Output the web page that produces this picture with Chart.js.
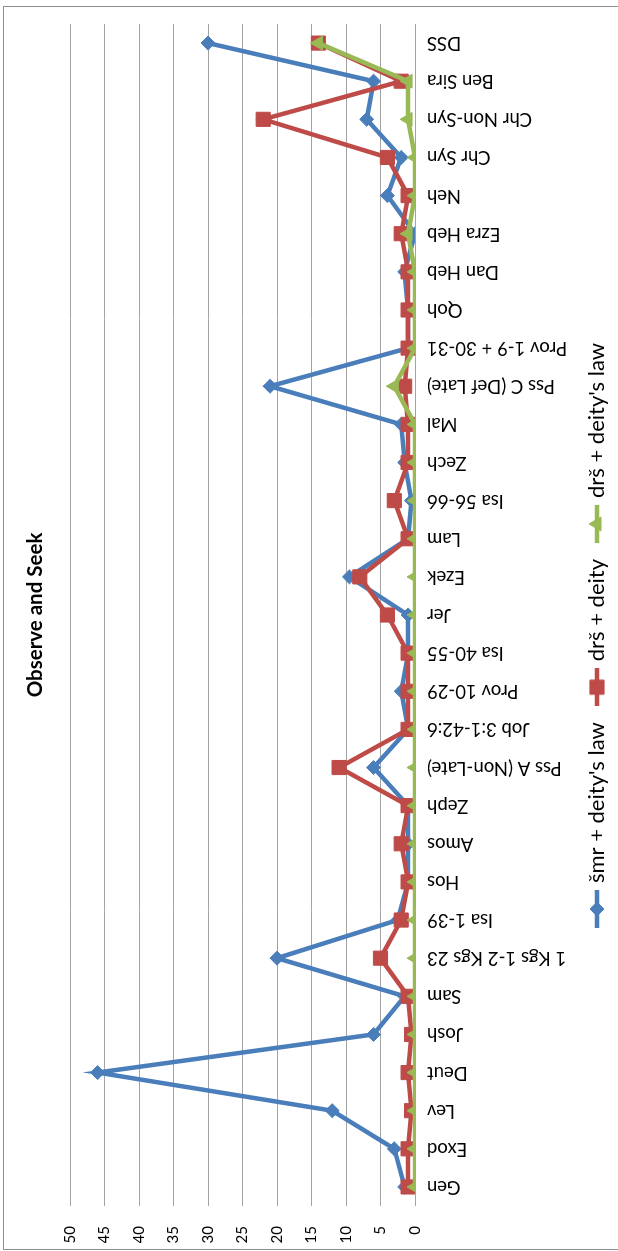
<!DOCTYPE html>
<html lang="en">
<head>
<meta charset="UTF-8">
<title>Observe and Seek</title>
<script src="https://cdn.jsdelivr.net/npm/chart.js"></script>
<style>
    html, body {
        margin: 0;
        padding: 0;
        background: #ffffff;
        overflow: hidden;
    }
    body {
        width: 618px;
        height: 1251px;
        position: relative;
    }
    /* chart is drawn landscape, then turned a quarter turn to the left */
    #rot {
        position: absolute;
        left: 0;
        top: 0;
        width: 1251px;
        height: 618px;
        transform-origin: 0 0;
        transform: translate(0, 1251px) rotate(-90deg);
    }
    #frame {
        position: absolute;
        left: 1px;
        top: 3px;
        width: 1244px;
        height: 640px;
        border: 1.5px solid #8f8f8f;
        border-bottom: none;
        box-sizing: border-box;
    }
    #chart {
        position: absolute;
        left: 0;
        top: 0;
    }
</style>
</head>
<body>
<div id="rot">
    <div id="frame"></div>
    <canvas id="chart" width="1251" height="618"></canvas>
</div>

<script>
    const categories = ['Gen', 'Exod', 'Lev', 'Deut', 'Josh', 'Sam', '1 Kgs 1-2 Kgs 23', 'Isa 1-39',
        'Hos', 'Amos', 'Zeph', 'Pss A (Non-Late)', 'Job 3:1-42:6', 'Prov 10-29', 'Isa 40-55', 'Jer',
        'Ezek', 'Lam', 'Isa 56-66', 'Zech', 'Mal', 'Pss C (Def Late)', 'Prov 1-9 + 30-31', 'Qoh',
        'Dan Heb', 'Ezra Heb', 'Neh', 'Chr Syn', 'Chr Non-Syn', 'Ben Sira', 'DSS'];

    const smrDeityLaw = [1.5, 3, 12, 46, 6, 1.5, 20, 2.5, 1, 1, 1, 6, 1, 2, 1, 1,
        9.5, 1, 0.5, 1.5, 2, 21, 1, 1, 1.5, 0, 4, 2, 7, 6, 30];
    const drsDeity = [1, 1, 0.5, 1, 0.5, 1, 5, 2, 1, 2, 1, 11, 1, 1, 1, 4,
        8, 1, 3, 1, 1, 1.5, 1, 1, 1, 2, 1, 4, 22, 2, 14];
    const drsDeityLaw = [0, 0, 0, 0, 0, 0, 0, 0, 0, 0, 0, 0, 0, 0, 0, 0,
        0, 0, 0, 0, 0, 3, 0, 0, 0, 1, 0, 0, 1, 1, 14];

    const seriesNames = ["šmr + deity's law", 'drš + deity', "drš + deity's law"];
    const yMin = 0;
    const yMax = 50;
    const yStep = 5;

    const BLUE = '#4a7ebb';
    const RED = '#be4b48';
    const GREEN = '#98b954';

    Chart.defaults.font.family = 'Lato, "Liberation Sans", sans-serif';
    Chart.defaults.color = '#000000';

    // little line + marker pictures for the legend, like the spreadsheet legend
    function legendIcon(color, style, radius) {
        const c = document.createElement('canvas');
        c.width = 38;
        c.height = 20;
        const g = c.getContext('2d');
        g.strokeStyle = color;
        g.lineWidth = 4.5;
        g.beginPath();
        g.moveTo(0, 10);
        g.lineTo(38, 10);
        g.stroke();
        g.fillStyle = color;
        g.lineWidth = 1;
        Chart.helpers.drawPoint(g, {pointStyle: style, radius: radius, rotation: 0, borderWidth: 1}, 19, 10);
        return c;
    }

    const icons = [
        legendIcon(BLUE, 'rectRot', 7),
        legendIcon(RED, 'rect', 10),
        legendIcon(GREEN, 'triangle', 8)
    ];

    function makeSet(label, data, color, style, radius, order) {
        return {
            label: label,
            data: data,
            borderColor: color,
            backgroundColor: color,
            borderWidth: 4.5,
            pointStyle: style,
            pointRadius: radius,
            pointBorderWidth: 1,
            pointBackgroundColor: color,
            pointBorderColor: color,
            tension: 0,
            fill: false,
            order: order
        };
    }

    new Chart(document.getElementById('chart'), {
        type: 'line',
        data: {
            labels: categories,
            datasets: [
                makeSet(seriesNames[0], smrDeityLaw, BLUE, 'rectRot', 7, 3),
                makeSet(seriesNames[1], drsDeity, RED, 'rect', 10, 2),
                makeSet(seriesNames[2], drsDeityLaw, GREEN, 'triangle', 8, 1)
            ]
        },
        options: {
            responsive: false,
            animation: false,
            devicePixelRatio: 1,
            layout: {
                padding: {left: 8, right: 24, top: 0, bottom: 0}
            },
            plugins: {
                tooltip: {enabled: false},
                title: {
                    display: true,
                    fullSize: false,
                    text: 'Observe and Seek',
                    color: '#000000',
                    font: {size: 20.5, weight: 'bold'},
                    padding: {top: 23, bottom: 22.4}
                },
                legend: {
                    position: 'bottom',
                    labels: {
                        usePointStyle: true,
                        pointStyleWidth: 30,
                        padding: 20,
                        color: '#000000',
                        font: {size: 22},
                        generateLabels: function (chart) {
                            return chart.data.datasets.map(function (ds, i) {
                                return {
                                    text: ds.label,
                                    pointStyle: icons[i],
                                    datasetIndex: i,
                                    hidden: false,
                                    lineWidth: 0,
                                    fillStyle: ds.borderColor,
                                    strokeStyle: ds.borderColor,
                                    fontColor: '#000000'
                                };
                            });
                        }
                    }
                }
            },
            scales: {
                x: {
                    offset: true,
                    grid: {display: false, drawTicks: false},
                    border: {display: false},
                    ticks: {
                        autoSkip: false,
                        minRotation: 90,
                        maxRotation: 90,
                        padding: 12,
                        color: '#000000',
                        font: {size: 18.5}
                    },
                    afterFit: function (scale) {
                        scale.height = 151;
                    }
                },
                y: {
                    min: yMin,
                    max: yMax,
                    grid: {
                        color: '#a3a3a3',
                        lineWidth: 1,
                        drawTicks: false
                    },
                    border: {display: false},
                    ticks: {
                        stepSize: yStep,
                        padding: 20,
                        color: '#000000',
                        font: {size: 15}
                    },
                    afterFit: function (scale) {
                        scale.width = 37;
                    }
                }
            }
        }
    });
</script>
</body>
</html>
